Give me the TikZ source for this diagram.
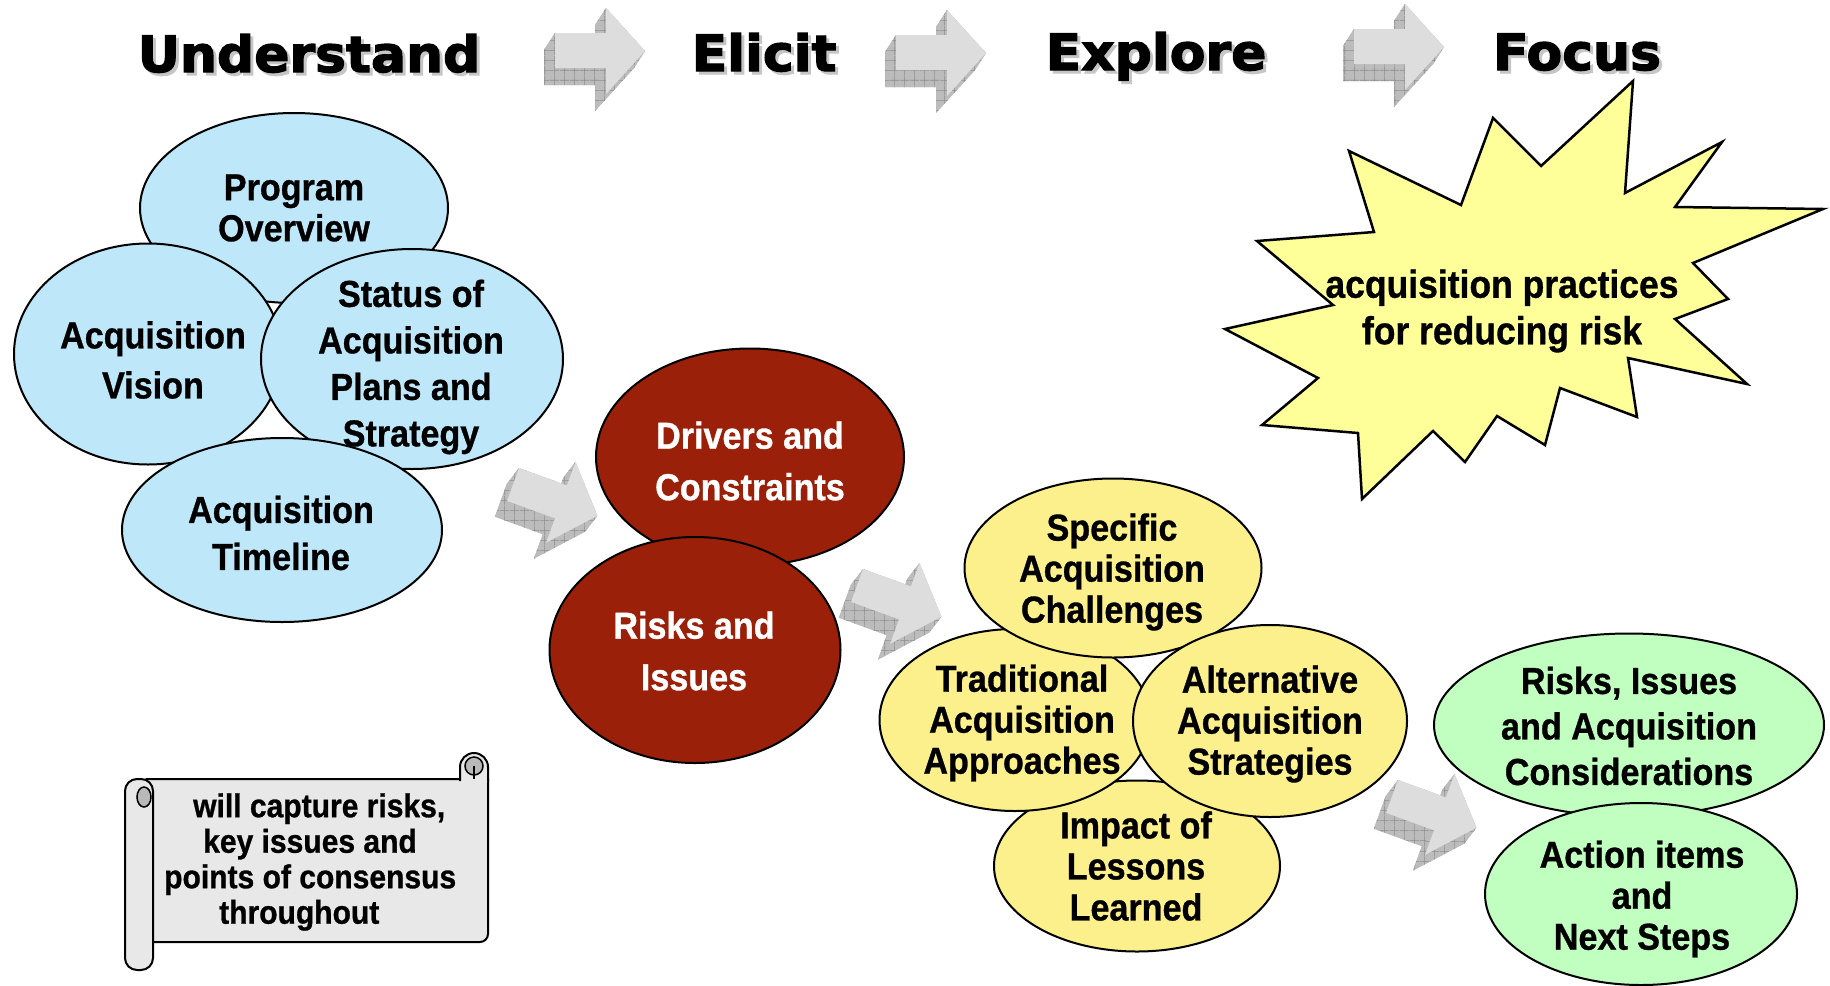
\documentclass[tikz,border=0pt]{standalone}
\usepackage{fontspec}
\usetikzlibrary{shapes.geometric,patterns.meta,calc}
\newfontfamily\nar[FakeStretch=0.91, BoldFeatures={FakeBold=0.8}]{Liberation Sans}
\newfontfamily\ttl[FakeStretch=1.04, BoldFeatures={FakeBold=2.5}]{DejaVu Sans}

\definecolor{blu}{RGB}{190,232,250}
\definecolor{redd}{RGB}{155,32,10}
\definecolor{yel}{RGB}{252,240,140}
\definecolor{grn}{RGB}{192,255,192}
\definecolor{starc}{RGB}{255,255,153}
\definecolor{scr}{RGB}{232,232,232}
\definecolor{scrd}{RGB}{185,185,185}
\definecolor{arfront}{RGB}{221,221,221}
\definecolor{arside}{RGB}{188,188,188}
\definecolor{arline}{RGB}{140,140,140}

\tikzdeclarepattern{
  name=agrid,
  type=uncolored,
  bounding box={(0pt,0pt) and (10pt,10pt)},
  tile size={(10pt,10pt)},
  code={\draw[line width=0.7pt] (0pt,5pt) -- (10pt,5pt) (5pt,0pt) -- (5pt,10pt);}
}

\newcommand\blockarrow[4]{%
\begin{scope}[shift={#1}, rotate=#2]
  \begin{scope}[shift={(#3,#4)}]
    \fill[arside] (0,0) -- (51,0) -- (51,-25) -- (90,18) -- (51,61) -- (51,35) -- (0,35) -- cycle;
    \fill[pattern=agrid, pattern color=arline] (0,0) -- (51,0) -- (51,-25) -- (90,18) -- (51,61) -- (51,35) -- (0,35) -- cycle;
  \end{scope}
  \foreach \ax/\ay/\bx/\by in {0/0/51/0, 51/0/51/-25, 51/-25/90/18, 90/18/51/61, 51/61/51/35, 51/35/0/35, 0/35/0/0}{
    \fill[arside] (\ax,\ay) -- (\bx,\by) -- ($(\bx,\by)+(#3,#4)$) -- ($(\ax,\ay)+(#3,#4)$) -- cycle;
    \fill[pattern=agrid, pattern color=arline] (\ax,\ay) -- (\bx,\by) -- ($(\bx,\by)+(#3,#4)$) -- ($(\ax,\ay)+(#3,#4)$) -- cycle;
  }
  \fill[arfront] (0,0) -- (51,0) -- (51,-25) -- (90,18) -- (51,61) -- (51,35) -- (0,35) -- cycle;
\end{scope}}

\begin{document}
\begin{tikzpicture}[x=1pt,y=-1pt,
  ell/.style={ellipse, draw=black, line width=2pt, inner sep=0pt},
  txt/.style={font=\nar\bfseries\fontsize{37.5}{41}\selectfont, align=center, inner sep=0pt},
  ttlsty/.style={font=\ttl\bfseries\fontsize{50}{56}\selectfont, inner sep=0pt, anchor=base},
  scrl/.style={draw=black, line width=2pt, fill=scr, line join=round}]
\useasboundingbox (0,0) rectangle (1830,985);

% titles
\node[ttlsty, text=gray!45] (tush) at (312,75) {Understand};
\node[ttlsty] (tu) at (309,72) {Understand};
\node[ttlsty, text=gray!45] (tesh) at (767,74) {Elicit};
\node[ttlsty] (te) at (764,71) {Elicit};
\node[ttlsty, text=gray!45] (txsh) at (1159,73) {Explore};
\node[ttlsty] (tx) at (1156,70) {Explore};
\node[ttlsty, text=gray!45] (tfsh) at (1580,73) {Focus};
\node[ttlsty] (tf) at (1577,70) {Focus};

% top block arrows
\blockarrow{(555,33)}{0}{-11}{17}
\blockarrow{(896,35)}{0}{-11}{17}
\blockarrow{(1354,29)}{0}{-11}{17}

% middle block arrows
\blockarrow{(519,468)}{-20}{-6}{19}
\blockarrow{(863,569)}{-20}{-6}{19}
\blockarrow{(1398,780)}{-20}{-6}{19}

% star
\draw[line width=2.5pt, fill=starc, line join=miter]
 (1633,81) -- (1625,193) -- (1722,142) -- (1675,207) -- (1823,209) -- (1693,263) -- (1728,299) -- (1675,319) -- (1747,384) -- (1628,358) -- (1637,417) -- (1560,388) -- (1545,445) -- (1497,416) -- (1465,462) -- (1433,431) -- (1362,499) -- (1358,433) -- (1262,425) -- (1318,378) -- (1225,329) -- (1333,305) -- (1257,241) -- (1374,232) -- (1349,151) -- (1461,205) -- (1493,118) -- (1541,166) -- cycle;

% blue ellipses
\node[ell, fill=blu, minimum width=308pt, minimum height=190pt] (po) at (294,208) {};
\node[ell, fill=blu, minimum width=268pt, minimum height=221pt] (av) at (148,354) {};
\node[ell, fill=blu, minimum width=302pt, minimum height=220pt] (sa) at (412,359) {};
\node[ell, fill=blu, minimum width=320pt, minimum height=184pt] (at) at (282,530) {};

% red ellipses
\node[ell, fill=redd, minimum width=308pt, minimum height=217pt] (dc) at (750,457) {};
\node[ell, fill=redd, minimum width=291pt, minimum height=226pt] (ri) at (695,650) {};

% yellow ellipses
\node[ell, fill=yel, minimum width=286pt, minimum height=171pt] (ill) at (1137,866) {};
\node[ell, fill=yel, minimum width=271pt, minimum height=182pt] (tla) at (1015,720) {};
\node[ell, fill=yel, minimum width=297pt, minimum height=179pt] (sac) at (1113,568) {};
\node[ell, fill=yel, minimum width=274pt, minimum height=192pt] (aas) at (1270,721) {};

% green ellipses
\node[ell, fill=grn, minimum width=390pt, minimum height=183pt] (riac) at (1629,725) {};
\node[ell, fill=grn, minimum width=312pt, minimum height=182pt] (ains) at (1641,894) {};

% scroll
\draw[scrl] (146,779) -- (488,779) [rounded corners=8pt] -- (488,942) -- (146,942) [sharp corners] -- cycle;
\draw[scrl] (460,781) -- (460,767) arc[start angle=180, end angle=0, radius=14pt] -- (488,781);
\draw[line width=1.5pt, fill=scrd] (474,766) circle (9pt);
\draw[line width=1.5pt] (474,766) -- (474,779);
\draw[scrl, rounded corners=12pt] (125,779) rectangle (153,970);
\draw[line width=1.5pt, fill=scrd] (144,797) ellipse [x radius=7pt, y radius=10pt];

% texts
\node[txt, font=\nar\bfseries\fontsize{37.5}{41}\selectfont] (tpo) at (294,208) {Program\\Overview};
\node[txt, font=\nar\bfseries\fontsize{37.5}{50}\selectfont] (tav) at (153,360) {Acquisition\\Vision};
\node[txt, font=\nar\bfseries\fontsize{37.5}{46.5}\selectfont] (tsa) at (411,367) {Status of\\Acquisition\\Plans and\\Strategy};
\node[txt, font=\nar\bfseries\fontsize{37.5}{47}\selectfont] (tat) at (281,533) {Acquisition\\Timeline};
\node[txt, text=white, font=\nar\bfseries\fontsize{37.5}{51.5}\selectfont] (tdc) at (750,461) {Drivers and\\Constraints};
\node[txt, text=white, font=\nar\bfseries\fontsize{37.5}{51.5}\selectfont] (tri) at (694,651) {Risks and\\Issues};
\node[txt] (tsac) at (1112,572) {Specific\\Acquisition\\Challenges};
\node[txt] (ttla) at (1022,723) {Traditional\\Acquisition\\Approaches};
\node[txt] (taas) at (1270,724) {Alternative\\Acquisition\\Strategies};
\node[txt] (till) at (1136,866) {Impact of\\Lessons\\Learned};
\node[txt, font=\nar\bfseries\fontsize{37.5}{45.5}\selectfont] (triac) at (1629,726) {Risks, Issues\\and Acquisition\\Considerations};
\node[txt] (tains) at (1642,899) {Action items\\and\\Next Steps};
\node[txt, font=\nar\bfseries\fontsize{39}{46.5}\selectfont] (tstar) at (1502,311) {acquisition practices\\for reducing risk};
\node[inner sep=0pt, align=left, anchor=west, font=\nar\bfseries\fontsize{33}{35.5}\selectfont] (tscr) at (164,862)
  {\hspace*{29pt}will capture risks,\\\hspace*{39pt}key issues and\\points of consensus\\\hspace*{55pt}throughout};
\end{tikzpicture}
\end{document}
